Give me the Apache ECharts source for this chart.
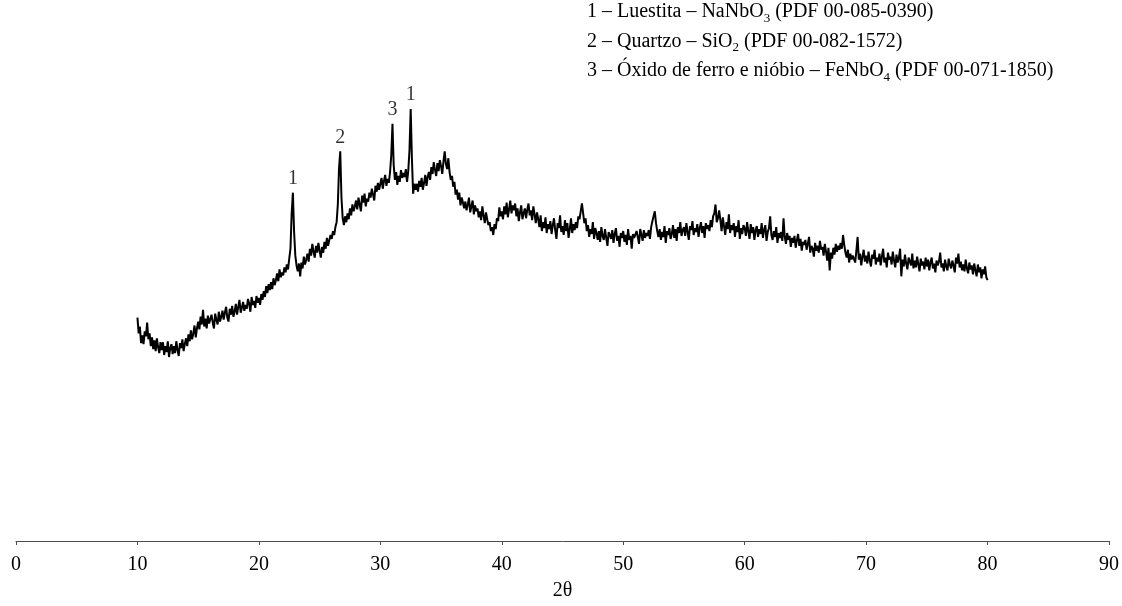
<!DOCTYPE html>
<html>
<head>
<meta charset="utf-8">
<script src="https://cdn.jsdelivr.net/npm/echarts@6/dist/echarts.min.js"></script>
<style>html,body{margin:0;padding:0;background:#fff}#c{width:1122px;height:606px}</style>
</head>
<body>
<div id="c"></div>
<script>
// 2θ sampling: from 10.0 to 80.0 in 0.1° steps
const thetaStart = 10.0;
const thetaStep = 0.1;
// Intensity (a.u.)
const intensity = [
230,214,221,204,212,203,216,211,225,208,
214,201,210,198,207,196,209,200,194,205,
197,205,192,201,195,206,190,199,203,193,
201,194,206,197,191,204,199,208,196,203,
209,201,213,206,217,208,214,222,210,219,
226,218,231,223,238,221,229,219,232,224,
222,233,225,219,234,228,223,236,226,231,
237,228,235,241,230,226,239,233,242,231,
236,244,233,241,248,235,240,246,237,243,
239,249,244,236,251,243,247,240,252,245,
250,243,254,248,257,251,262,255,264,258,
266,259,270,263,268,275,267,279,271,276,
273,281,276,284,279,290,300,336,357,317,
293,283,277,285,272,286,280,292,284,289,
295,287,300,293,305,297,291,303,296,306,
298,291,302,296,307,300,311,303,309,314,
310,318,314,322,327,345,382,399,352,331,
324,333,327,336,330,341,334,345,338,343,
349,340,352,345,338,354,347,356,343,351,
348,357,352,361,355,349,364,358,367,360,
366,372,361,369,375,364,371,367,378,395,
427,385,370,378,365,374,368,380,372,377,
373,381,368,379,400,442,392,356,366,360,
366,358,369,363,372,360,367,375,364,373,
378,370,383,376,388,380,374,387,379,390,
384,376,389,399,386,381,392,378,370,374,
363,368,355,360,350,357,344,352,347,341,
348,339,345,352,337,343,349,335,344,338,
341,332,338,329,343,334,326,337,330,324,
327,318,322,314,325,320,331,328,342,333,
338,330,343,335,347,332,340,349,336,344,
339,346,333,341,328,337,344,330,336,341,
331,340,346,334,339,329,343,335,326,337,
330,322,334,318,327,321,332,316,325,320,
328,315,324,331,319,310,326,321,334,317,
323,314,329,318,326,311,320,331,316,325,
319,327,321,333,330,338,346,336,326,331,
318,324,312,320,315,327,310,321,316,309,
318,307,322,313,309,320,311,303,317,314,
310,319,306,315,321,308,313,302,316,311,
318,307,314,304,320,309,313,300,315,311,
309,318,312,305,320,314,308,319,311,316,
313,319,310,322,328,333,338,326,318,312,
320,309,317,312,323,306,318,314,321,310,
315,324,311,320,308,322,316,327,313,319,
322,313,326,317,309,323,319,328,314,321,
317,325,312,321,327,316,323,311,326,320,
324,318,329,322,333,336,345,327,331,339,
329,318,332,323,314,327,320,335,316,324,
319,326,312,323,317,329,310,321,315,324,
321,313,327,318,310,325,316,322,309,319,
323,312,320,315,326,311,319,324,308,317,
321,333,314,309,318,312,322,306,316,311,
317,308,331,312,305,316,309,313,302,311,
306,313,301,309,315,303,310,298,307,304,
309,299,305,312,296,303,300,292,306,298,
303,296,308,299,302,293,305,297,288,301,
278,296,290,301,294,305,297,303,299,306,
300,314,304,296,291,299,286,295,289,293,
294,286,298,312,289,295,283,292,299,287,
293,285,297,288,282,294,290,299,284,291,
287,295,283,292,300,286,291,281,296,289,
292,284,297,288,281,294,286,291,300,272,
289,282,294,285,279,291,287,283,295,280,
288,281,292,284,277,290,283,287,279,291,
282,289,278,286,291,280,285,276,288,283,
287,296,281,285,277,289,282,278,290,284,
280,288,283,276,291,285,295,281,287,278,
284,277,289,280,275,286,279,283,274,285,
278,272,284,276,281,270,279,274,282,271,
268
];
// Peak annotations
const peakPositions = [22.8, 26.7, 31.0, 32.5];
const peakLabels = ['1', '2', '3', '1'];
// Phase legend lines
const legendLines = [
  ['1 – Luestita – NaNbO', '3', ' (PDF 00-085-0390)'],
  ['2 – Quartzo – SiO', '2', ' (PDF 00-082-1572)'],
  ['3 – Óxido de ferro e nióbio – FeNbO', '4', ' (PDF 00-071-1850)']
];
const xAxisName = '2θ';

const seriesData = intensity.map((v, i) => [+(thetaStart + i * thetaStep).toFixed(1), v]);
const peakData = peakPositions.map((p, k) => {
  const idx = Math.round((p - thetaStart) / thetaStep);
  return { value: [p, intensity[idx]], name: peakLabels[k] };
});

const FONT = '"Liberation Serif", "Times New Roman", serif';
const chart = echarts.init(document.getElementById('c'));
chart.setOption({
  animation: false,
  backgroundColor: '#fff',
  grid: { left: 16, right: 13, top: 49, bottom: 57 },
  xAxis: {
    type: 'value', min: 0, max: 90, interval: 10,
    axisLine: { lineStyle: { color: '#4d4d4d', width: 1 } },
    axisTick: { show: true, inside: false, length: 4, lineStyle: { color: '#4d4d4d' } },
    splitLine: { show: false },
    axisLabel: { fontFamily: FONT, fontSize: 20, color: '#000', margin: 14 },
    name: xAxisName, nameLocation: 'middle', nameGap: 40,
    nameTextStyle: { fontFamily: FONT, fontSize: 20, color: '#000' }
  },
  yAxis: { type: 'value', min: 3, max: 503, show: false },
  series: [
    {
      type: 'line', data: seriesData, showSymbol: false, symbol: 'none',
      lineStyle: { color: '#000', width: 2 }
    },
    {
      type: 'scatter', data: peakData, symbolSize: 0,
      label: { show: true, position: 'top', distance: 4, formatter: p => p.name,
        fontFamily: FONT, fontSize: 20, color: '#000' }
    }
  ],
  graphic: legendLines.map((ln, i) => ({
    type: 'text', left: 587, top: 1 + i * 29.5,
    style: {
      text: '{a|' + ln[0] + '}{s|' + ln[1] + '}{a|' + ln[2] + '}',
      rich: {
        a: { fontFamily: FONT, fontSize: 20, color: '#000', lineHeight: 26, verticalAlign: 'middle' },
        s: { fontFamily: FONT, fontSize: 13, color: '#000', lineHeight: 26, verticalAlign: 'bottom', padding: [11, 0, 0, 0] }
      }
    }
  }))
});
</script>
</body>
</html>
